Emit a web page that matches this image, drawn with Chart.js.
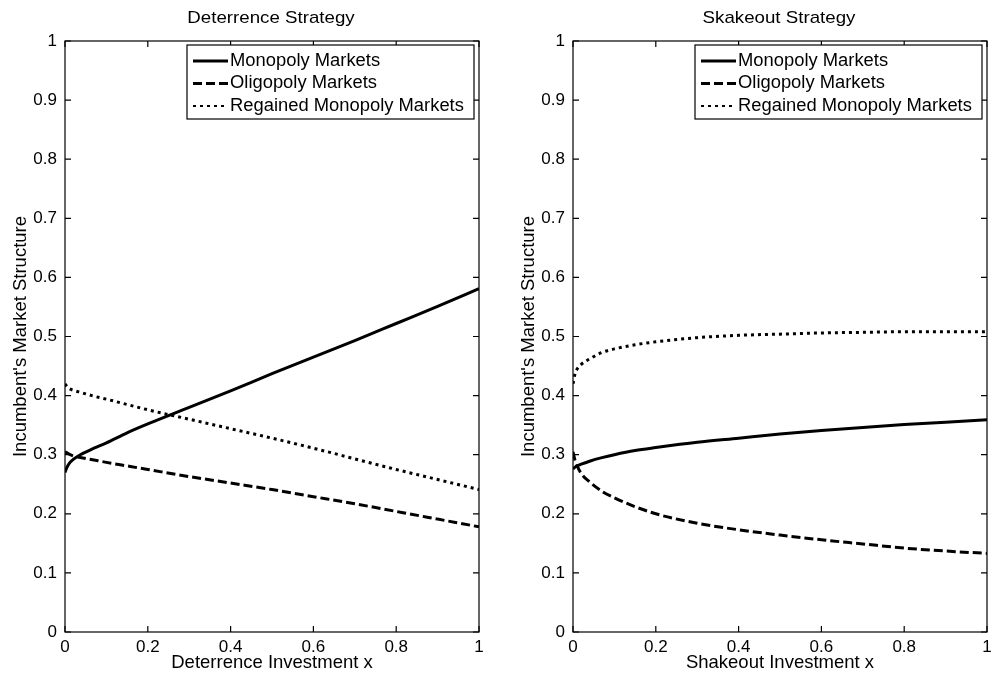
<!DOCTYPE html>
<html>
<head>
<meta charset="utf-8">
<script src="https://cdn.jsdelivr.net/npm/chart.js@4.4.0/dist/chart.umd.min.js"></script>
<style>
  body { margin: 0; background: #fff; width: 998px; height: 674px; overflow: hidden; position: relative; }
  canvas { position: absolute; top: 0; }
  #c1 { left: 0; }
  #c2 { left: 508px; }
</style>
</head>
<body>
<canvas id="c1" width="500" height="674"></canvas>
<canvas id="c2" width="490" height="674"></canvas>
<script>
// data
var xs = [0, 0.005, 0.01, 0.02, 0.04, 0.07, 0.1, 0.15, 0.2, 0.3, 0.4, 0.5, 0.6, 0.7, 0.8, 0.9, 1];

var detMono     = [0.27, 0.279, 0.285, 0.292, 0.301, 0.311, 0.32, 0.337, 0.352, 0.38, 0.408, 0.437, 0.465, 0.493, 0.522, 0.551, 0.581];
var detOligo    = [0.305, 0.303, 0.301, 0.298, 0.295, 0.291, 0.287, 0.281, 0.275, 0.263, 0.252, 0.241, 0.229, 0.217, 0.204, 0.191, 0.178];
var detRegained = [0.42, 0.415, 0.412, 0.409, 0.405, 0.399, 0.394, 0.385, 0.376, 0.36, 0.344, 0.328, 0.311, 0.293, 0.275, 0.258, 0.241];

var shakeMono     = [0.276, 0.279, 0.281, 0.284, 0.289, 0.295, 0.3, 0.307, 0.312, 0.321, 0.328, 0.335, 0.341, 0.346, 0.351, 0.355, 0.359];
var shakeOligo    = [0.305, 0.29, 0.281, 0.268, 0.254, 0.238, 0.227, 0.212, 0.2, 0.184, 0.173, 0.164, 0.156, 0.149, 0.142, 0.137, 0.133];
var shakeRegained = [0.42, 0.437, 0.445, 0.453, 0.462, 0.473, 0.479, 0.486, 0.491, 0.498, 0.502, 0.504, 0.506, 0.507, 0.508, 0.508, 0.508];

var seriesNames = ['Monopoly Markets', 'Oligopoly Markets', 'Regained Monopoly Markets'];
var xTicks = [0, 0.2, 0.4, 0.6, 0.8, 1];
var yTicks = [0, 0.1, 0.2, 0.3, 0.4, 0.5, 0.6, 0.7, 0.8, 0.9, 1];

var FONT = 'Arial, "Liberation Sans", Helvetica, sans-serif';
var dashes = [[], [9, 4], [3, 4]];

function toPoints(vals) {
  return vals.map(function (v, i) { return {x: xs[i], y: v}; });
}

// text a bit wider than the font, like the source picture
function wideText(ctx, text, x, y, sx, align) {
  ctx.save();
  ctx.translate(x, y);
  ctx.scale(sx, 1);
  ctx.textAlign = align;
  ctx.fillText(text, 0, 0);
  ctx.restore();
}

// frame with inward ticks, legend box and title
var framePlugin = {
  id: 'frame',
  afterDraw: function (chart, args, opts) {
    var ctx = chart.ctx, a = chart.chartArea;
    var x = chart.scales.x, y = chart.scales.y;
    ctx.save();
    ctx.strokeStyle = '#000';
    ctx.lineWidth = 1.2;
    ctx.setLineDash([]);
    ctx.strokeRect(a.left, a.top, a.right - a.left, a.bottom - a.top);
    ctx.beginPath();
    xTicks.forEach(function (v) {
      var px = x.getPixelForValue(v);
      ctx.moveTo(px, a.bottom); ctx.lineTo(px, a.bottom - 6);
      ctx.moveTo(px, a.top); ctx.lineTo(px, a.top + 6);
    });
    yTicks.forEach(function (v) {
      var py = y.getPixelForValue(v);
      ctx.moveTo(a.left, py); ctx.lineTo(a.left + 6, py);
      ctx.moveTo(a.right, py); ctx.lineTo(a.right - 6, py);
    });
    ctx.stroke();

    // legend
    var w = 287, h = 74;
    var bx = a.right - 5 - w, by = a.top + 4;
    ctx.fillStyle = '#fff';
    ctx.fillRect(bx, by, w, h);
    ctx.lineWidth = 1.2;
    ctx.strokeRect(bx, by, w, h);
    ctx.font = '17.5px ' + FONT;
    ctx.textBaseline = 'middle';
    chart.data.datasets.forEach(function (d, i) {
      var yy = by + 16 + i * 22.5;
      ctx.setLineDash(d.borderDash || []);
      ctx.lineWidth = i == 2 ? 2 : 3;
      ctx.beginPath();
      ctx.moveTo(bx + 6, yy); ctx.lineTo(bx + 41, yy);
      ctx.stroke();
      ctx.fillStyle = '#000';
      wideText(ctx, d.label, bx + 43, yy, 1.05, 'left');
    });

    // title
    ctx.font = '17px ' + FONT;
    ctx.fillStyle = '#000';
    wideText(ctx, opts.title, (a.left + a.right) / 2 - 1, 18, 1.1, 'center');
    ctx.restore();
  }
};

function makeChart(id, title, xTitle, mono, oligo, regained, padRight) {
  var vals = [mono, oligo, regained];
  return new Chart(document.getElementById(id), {
    type: 'line',
    data: {
      datasets: vals.map(function (v, i) {
        return {
          label: seriesNames[i],
          data: toPoints(v),
          borderColor: '#000',
          borderWidth: 3,
          borderDash: dashes[i],
          pointRadius: 0,
          fill: false,
          cubicInterpolationMode: 'monotone'
        };
      })
    },
    options: {
      responsive: false,
      animation: false,
      layout: {padding: {top: 41, right: padRight, bottom: 0, left: 0}},
      plugins: {
        legend: {display: false},
        tooltip: {enabled: false},
        frame: {title: title}
      },
      scales: {
        x: {
          type: 'linear', min: 0, max: 1,
          afterFit: function (s) { s.height = 42; },
          afterBuildTicks: function (s) { s.ticks = xTicks.map(function (v) { return {value: v}; }); },
          grid: {display: false, drawTicks: false},
          border: {display: false},
          ticks: {color: '#000', font: {family: FONT, size: 17}, padding: 5, maxRotation: 0, autoSkip: false,
                  callback: function (v) { return String(v); }},
          title: {display: true, text: xTitle, color: '#000', font: {family: FONT, size: 18.5}, padding: {top: 0, bottom: 0}}
        },
        y: {
          type: 'linear', min: 0, max: 1,
          afterFit: function (s) { s.width = 65; },
          afterBuildTicks: function (s) { s.ticks = yTicks.map(function (v) { return {value: v}; }); },
          grid: {display: false, drawTicks: false},
          border: {display: false},
          ticks: {color: '#000', font: {family: FONT, size: 17}, padding: 8, autoSkip: false,
                  callback: function (v) { return String(v); }},
          title: {display: true, text: "Incumbent's Market Structure", color: '#000', font: {family: FONT, size: 18.5}, padding: {top: 10, bottom: 0}}
        }
      }
    },
    plugins: [framePlugin]
  });
}

makeChart('c1', 'Deterrence Strategy', 'Deterrence Investment x', detMono, detOligo, detRegained, 21);
makeChart('c2', 'Skakeout Strategy', 'Shakeout Investment x', shakeMono, shakeOligo, shakeRegained, 11);
</script>
</body>
</html>
